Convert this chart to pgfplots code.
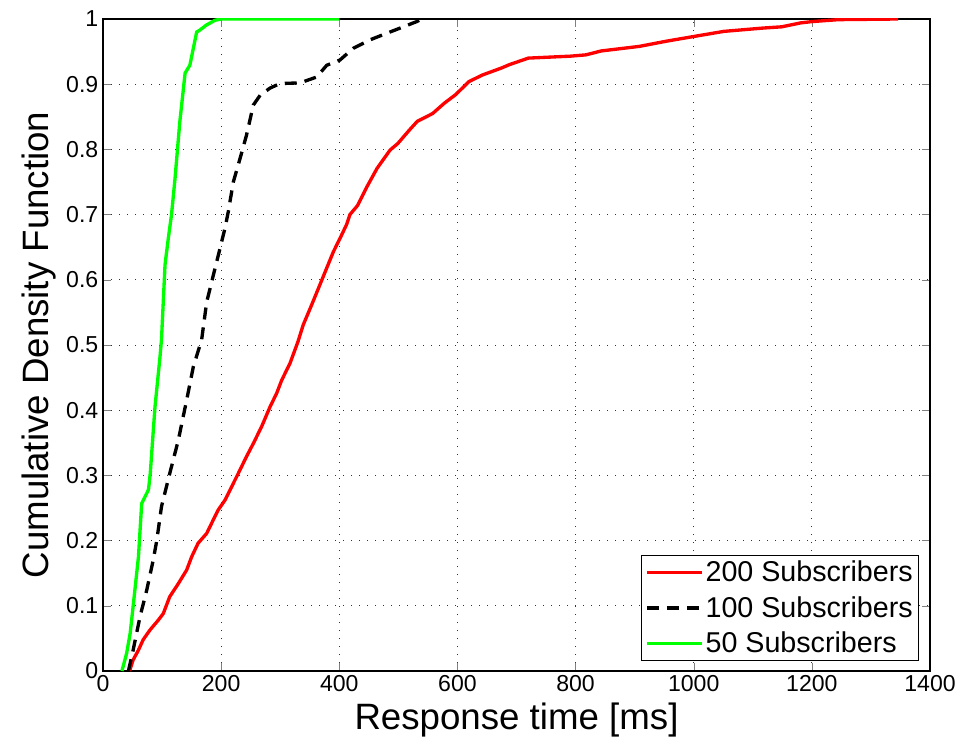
\documentclass[border=0pt]{standalone}
\usepackage{fontspec}
\setmainfont{Liberation Sans}
\usepackage{pgfplots}
\pgfplotsset{compat=1.18}
\begin{document}
\begin{tikzpicture}
\begin{axis}[
  scale only axis,
  width=620.25pt, height=489pt,
  xmin=0, xmax=1400, ymin=0, ymax=1,
  xtick={0,200,...,1400},
  ytick={0,0.1,...,1},
  yticklabels={0,0.1,0.2,0.3,0.4,0.5,0.6,0.7,0.8,0.9,1},
  /pgf/number format/assume math mode=true,
  scaled x ticks=false,
  xticklabel style={/pgf/number format/.cd,fixed,1000 sep={}},
  tick label style={font=\fontsize{17.3}{20}\selectfont},
  tick align=inside,
  major tick length=6pt,
  xmajorgrids, ymajorgrids,
  grid style={black!80, line width=0.6pt, dash pattern=on 0.6pt off 5.4pt},
  axis line style={line width=0.8pt},
  xlabel={Response time [ms]},
  ylabel={Cumulative Density Function},
  label style={font=\fontsize{27.5}{32}\selectfont},
  xlabel style={yshift=-1pt},
  ylabel style={yshift=1pt},
  legend cell align=left,
  legend style={font=\fontsize{21.5}{24}\selectfont, draw=black, line width=0.8pt,
    at={(rel axis cs:0.987,0.015)}, anchor=south east, row sep=6.5pt,
    inner sep=3pt, nodes={inner sep=1.5pt}},
  legend image code/.code={\draw[#1] (0cm,0cm) -- (1.45cm,0cm);},
]
\coordinate (bl) at (rel axis cs:0,0);
\coordinate (tr) at (rel axis cs:1,1);
\addplot[red, line width=2.5pt] coordinates {
(45,0) (51,0.017) (60,0.032) (68,0.048) (79.6,0.063) (93.6,0.078) (102,0.088)
(113,0.114) (127.5,0.134) (141.7,0.155) (150,0.175) (161,0.196) (175.5,0.211)
(186.8,0.232) (195,0.247) (206.5,0.262) (218,0.283) (229,0.303) (243,0.329)
(254.5,0.349) (268.6,0.375) (282.7,0.405) (294,0.426) (302.5,0.446) (316.6,0.472)
(330,0.505) (339,0.531) (353,0.561) (367,0.592) (378.7,0.618) (390,0.643)
(402,0.665) (412.5,0.685) (418,0.70) (431,0.714) (447,0.743) (464,0.771)
(486,0.799) (499,0.809) (519,0.83) (532,0.843) (558,0.855) (578,0.871)
(597,0.884) (619.5,0.904) (642,0.914) (675,0.925) (688,0.930) (720,0.94)
(791.5,0.943) (817.5,0.945) (843.5,0.951) (908,0.958) (954,0.966) (999,0.973)
(1051,0.981) (1116,0.986) (1149,0.988) (1181,0.994) (1200,0.996) (1245,0.999)
(1346,1)
};
\addlegendentry{200 Subscribers}
\addplot[black, line width=2.5pt, dash pattern=on 9pt off 6pt] coordinates {
(43,0) (51,0.032) (62.6,0.083) (74,0.124) (85,0.17) (91,0.2) (99,0.252)
(113,0.303) (127.5,0.354) (141.7,0.416) (153,0.467) (167,0.508) (175.5,0.566)
(186.8,0.607) (206.5,0.679) (212,0.704) (220.6,0.75) (232,0.786) (243,0.822)
(254.5,0.868) (266,0.883) (282.7,0.894) (299.6,0.901) (333.5,0.902)
(361.8,0.911) (378.7,0.929) (401,0.937) (423.7,0.955) (452,0.968)
(480,0.978) (502.8,0.986) (531,0.996) (540,1)
};
\addlegendentry{100 Subscribers}
\addplot[green, line width=2.5pt] coordinates {
(32,0) (40,0.027) (46,0.058) (51,0.099) (60,0.175) (65.5,0.257) (77,0.278)
(80,0.303) (88,0.405) (96.5,0.482) (99,0.508) (105,0.623) (110.6,0.664)
(116,0.70) (122,0.756) (130,0.842) (139,0.917) (147,0.929) (158.6,0.98)
(164,0.983) (175.5,0.991) (189.6,0.998) (200,1) (400,1)
};
\addlegendentry{50 Subscribers}
\end{axis}
\pgfresetboundingbox
\path ([xshift=-77.25pt,yshift=-56.25pt]bl) rectangle ([xshift=24.75pt,yshift=14.25pt]tr);
\end{tikzpicture}
\end{document}
